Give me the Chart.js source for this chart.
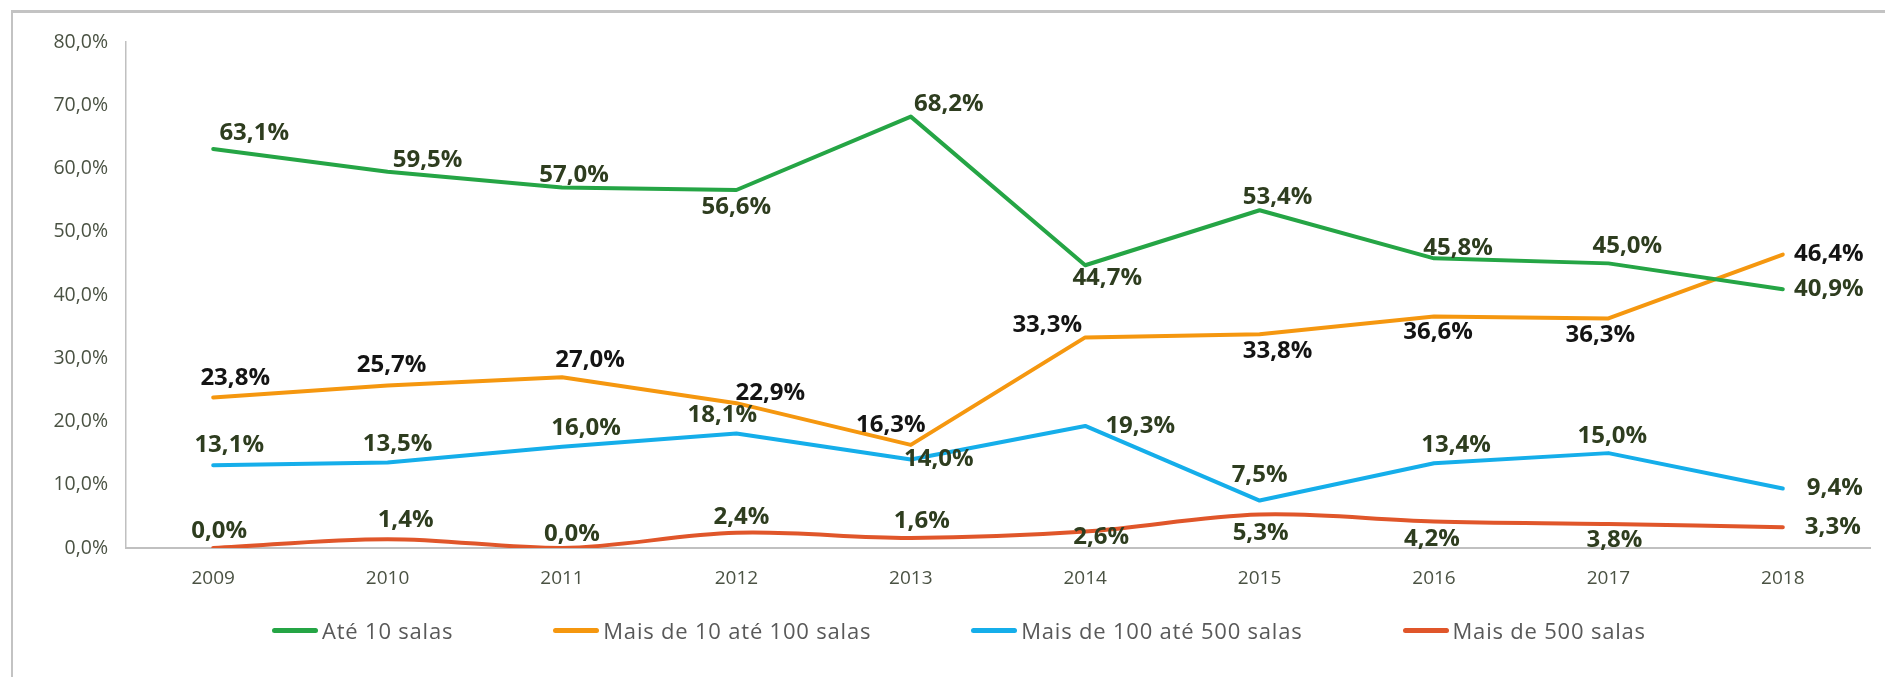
<!DOCTYPE html>
<html>
<head>
<meta charset="utf-8">
<script src="https://cdn.jsdelivr.net/npm/chart.js@4.4.0/dist/chart.umd.min.js"></script>
<style>
    html, body { margin: 0; padding: 0; background: #fff; }
    #wrap { position: relative; width: 1885px; height: 677px; overflow: hidden; }
    #frame { position: absolute; left: 11px; top: 10px; width: 1880px; height: 680px;
             border-left: 2px solid #c3c3c3; border-top: 3px solid #c3c3c3; }
    #chart { position: absolute; left: 0; top: 0; }
    #legend { position: absolute; left: 272px; top: 615px; display: flex; gap: 100px;
              font-family: "Open Sans", sans-serif; font-size: 22px; letter-spacing: 0.8px; color: #595959; }
    #legend .item { display: flex; align-items: center; white-space: nowrap; }
    #legend .mark { width: 46px; height: 5px; border-radius: 3px; margin-right: 4px; }
</style>
</head>
<body>
<div id="wrap">
    <div id="frame"></div>
    <canvas id="chart" width="1885" height="677"></canvas>
    <div id="legend"></div>
</div>
<script>
// Data
const years = ['2009', '2010', '2011', '2012', '2013', '2014', '2015', '2016', '2017', '2018'];
const seriesNames = ['Até 10 salas', 'Mais de 10 até 100 salas', 'Mais de 100 até 500 salas', 'Mais de 500 salas'];
const ate10 = [63.1, 59.5, 57.0, 56.6, 68.2, 44.7, 53.4, 45.8, 45.0, 40.9];
const de10a100 = [23.8, 25.7, 27.0, 22.9, 16.3, 33.3, 33.8, 36.6, 36.3, 46.4];
const de100a500 = [13.1, 13.5, 16.0, 18.1, 14.0, 19.3, 7.5, 13.4, 15.0, 9.4];
const mais500 = [0.0, 1.4, 0.0, 2.4, 1.6, 2.6, 5.3, 4.2, 3.8, 3.3];
const yMin = 0, yMax = 80, yStep = 10;

const colors = ['#25a545', '#f5970f', '#15aeea', '#e0562a'];
const labelColors = ['#2e3d1f', '#141414', '#2e3d1f', '#2e3d1f'];

// where each value label sits relative to its point (px)
const labelOffsets = [
    [[41, -16], [40, -12], [12, -12], [0, 17], [38, -12], [22, 13], [18, -13], [24, -10], [19, -17], [46, 0]],
    [[22, -19], [4, -20], [28, -17], [34, -10], [-20, -20], [-38, -12], [18, 17], [4, 16], [-8, 17], [46, 0]],
    [[16, -20], [10, -18], [24, -19], [-14, -18], [28, 0], [55, 0], [0, -25], [22, -18], [4, -17], [52, 0]],
    [[6, -17], [18, -19], [10, -14], [5, -16], [11, -17], [16, 6], [1, 19], [-2, 18], [6, 16], [50, 0]]
];

function fmt(v) {
    return v.toFixed(1).replace('.', ',') + '%';
}

// Draw value labels next to points
const valueLabels = {
    id: 'valueLabels',
    afterDatasetsDraw(chart) {
        const ctx = chart.ctx;
        ctx.save();
        ctx.font = 'bold 24px "Open Sans"';
        ctx.textAlign = 'center';
        ctx.textBaseline = 'middle';
        chart.data.datasets.forEach((ds, di) => {
            const meta = chart.getDatasetMeta(di);
            ctx.fillStyle = labelColors[di];
            meta.data.forEach((pt, i) => {
                const off = labelOffsets[di][i];
                ctx.fillText(fmt(ds.data[i]), pt.x + off[0], pt.y + off[1]);
            });
        });
        ctx.restore();
    }
};

const seriesData = [ate10, de10a100, de100a500, mais500];

const chart = new Chart(document.getElementById('chart'), {
    type: 'line',
    data: {
        labels: years,
        datasets: seriesData.map((d, i) => ({
            label: seriesNames[i],
            data: d,
            borderColor: colors[i],
            backgroundColor: colors[i],
            borderWidth: 4,
            pointRadius: 0,
            tension: i === 3 ? 0.35 : 0,
            borderCapStyle: 'round',
            borderJoinStyle: 'round'
        }))
    },
    options: {
        responsive: false,
        animation: false,
        layout: { padding: { left: 0, top: 42, right: 15, bottom: 79 } },
        scales: {
            x: {
                offset: true,
                grid: { display: false, drawTicks: false },
                border: { color: '#c0c0c0', width: 2 },
                ticks: { color: '#4a5243', font: { family: 'Open Sans', size: 19 }, padding: 19, maxRotation: 0 },
                afterFit: s => { s.height = 50; }
            },
            y: {
                min: yMin,
                max: yMax,
                grid: { display: false, drawTicks: false },
                border: { color: '#c0c0c0', width: 1.5 },
                ticks: {
                    stepSize: yStep,
                    color: '#4a5243',
                    font: { family: 'Open Sans', size: 19.5 },
                    padding: 18,
                    callback: v => fmt(v)
                },
                afterFit: s => { s.width = 126; }
            }
        },
        plugins: {
            legend: { display: false },
            tooltip: { enabled: false }
        }
    },
    plugins: [valueLabels]
});

// HTML legend
const legend = document.getElementById('legend');
seriesNames.forEach((name, i) => {
    const item = document.createElement('div');
    item.className = 'item';
    item.innerHTML = '<span class="mark" style="background:' + colors[i] + '"></span><span>' + name + '</span>';
    legend.appendChild(item);
});
</script>
</body>
</html>
